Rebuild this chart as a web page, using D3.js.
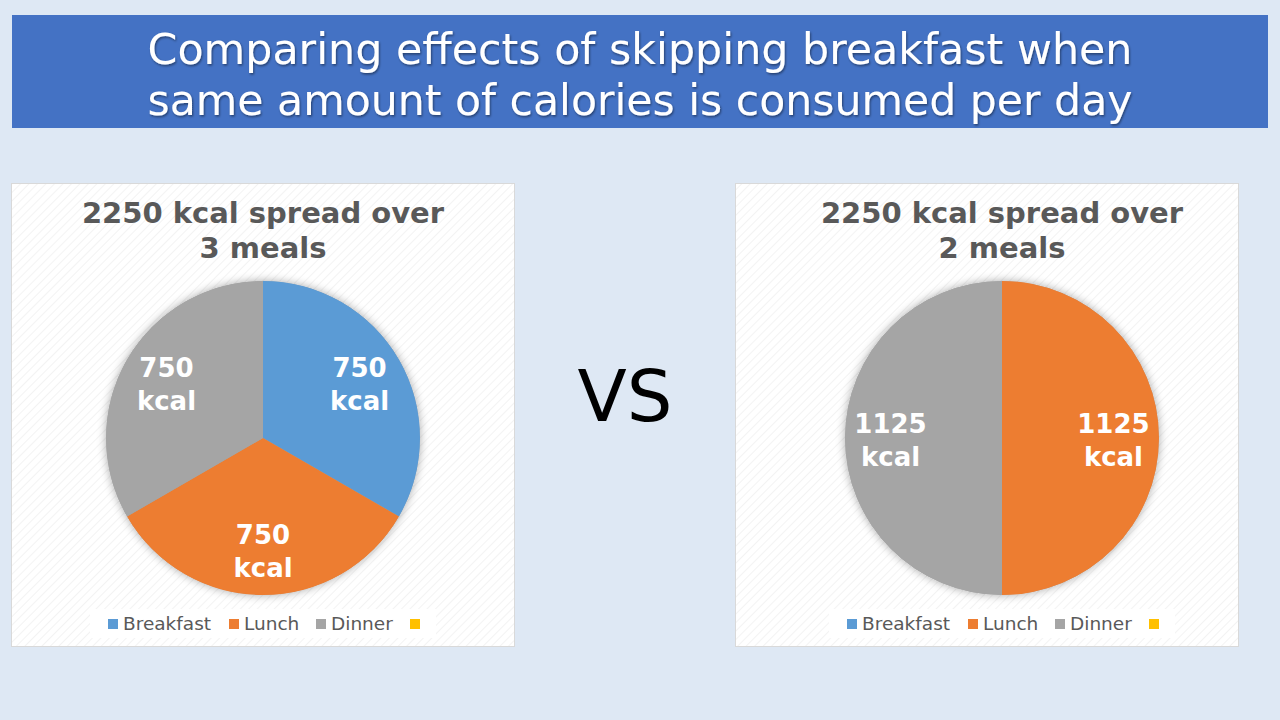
<!DOCTYPE html>
<html><head><meta charset="utf-8">
<script src="https://cdn.jsdelivr.net/npm/d3@7"></script>
<style>body{margin:0;background:#dee8f4;}svg{display:block;}</style>
</head><body>
<svg id="c" width="1280" height="720"></svg>
<script>
const categories = ["Breakfast", "Lunch", "Dinner", ""];
const colors = ["#5b9bd5", "#ed7d31", "#a5a5a5", "#ffc000"];
const mainTitle = ["Comparing effects of skipping breakfast when", "same amount of calories is consumed per day"];
const leftTitle = ["2250 kcal spread over", "3 meals"];
const rightTitle = ["2250 kcal spread over", "2 meals"];
const leftValues = [750, 750, 750, 0];
const rightValues = [0, 1125, 1125, 0];

const svg = d3.select("#c");
svg.append("rect").attr("width",1280).attr("height",720).attr("fill","#dee8f4");
const defs = svg.append("defs");
const pat = defs.append("pattern").attr("id","stripe").attr("patternUnits","userSpaceOnUse")
  .attr("width",6).attr("height",6).attr("patternTransform","rotate(45)");
pat.append("rect").attr("width",6).attr("height",6).attr("fill","#ffffff");
pat.append("rect").attr("width",1).attr("height",6).attr("fill","#f3f3f3");
const f = defs.append("filter").attr("id","sh").attr("x","-20%").attr("y","-20%").attr("width","140%").attr("height","140%");
f.append("feGaussianBlur").attr("in","SourceAlpha").attr("stdDeviation",5).attr("result","b");
f.append("feOffset").attr("in","b").attr("dx",0).attr("dy",0).attr("result","o");
f.append("feComponentTransfer").attr("in","o").attr("result","o2").append("feFuncA").attr("type","linear").attr("slope",0.35);
const m = f.append("feMerge"); m.append("feMergeNode").attr("in","o2"); m.append("feMergeNode").attr("in","SourceGraphic");
const tf = defs.append("filter").attr("id","tsh");
tf.append("feDropShadow").attr("dx",1).attr("dy",1.5).attr("stdDeviation",1).attr("flood-color","#000").attr("flood-opacity",0.45);

// Banner
svg.append("rect").attr("x",12).attr("y",15).attr("width",1256).attr("height",113).attr("fill","#4472c4");
svg.append("g").attr("filter","url(#tsh)").selectAll("text").data(mainTitle).join("text")
  .attr("x",640).attr("y",(d,i)=>64+i*51).attr("text-anchor","middle")
  .attr("font-family","'DejaVu Sans Condensed', 'DejaVu Sans', sans-serif").attr("font-size",43)
  .attr("fill","#fff")
  .attr("textLength",985).attr("lengthAdjust","spacingAndGlyphs")
  .text(d=>d);

// VS
svg.append("text").attr("x",625).attr("y",421).attr("text-anchor","middle")
  .attr("font-family","'DejaVu Sans', sans-serif").attr("font-size",72).attr("fill","#000").text("VS");

function panel(px, cx, title, values) {
  const g = svg.append("g");
  g.append("rect").attr("x",px+0.5).attr("y",183.5).attr("width",503).attr("height",463)
    .attr("fill","url(#stripe)").attr("stroke","#d9d9d9");
  const cy = 438, r = 157;
  g.selectAll("text.t").data(title).join("text").attr("class","t")
    .attr("x",cx).attr("y",(d,i)=>223+i*35).attr("text-anchor","middle")
    .attr("font-family","'DejaVu Sans', Verdana, sans-serif").attr("font-weight","bold")
    .attr("font-size",29).attr("fill","#595959").text(d=>d);
  const pie = d3.pie().sort(null).value(d=>d.v);
  const data = pie(values.map((v,i)=>({v, i})));
  const arc = d3.arc().innerRadius(0).outerRadius(r);
  const pg = g.append("g").attr("transform",`translate(${cx},${cy})`);
  pg.append("circle").attr("r",r).attr("fill","#a5a5a5").attr("filter","url(#sh)");
  pg.selectAll("path").data(data.filter(d=>d.data.v>0)).join("path")
    .attr("d",arc).attr("fill",d=>colors[d.data.i]);
  const la = d3.arc().innerRadius(r*0.71).outerRadius(r*0.71);
  data.filter(d=>d.data.v>0).forEach(d=>{
    const [x,y] = la.centroid(d);
    const t = pg.append("text").attr("text-anchor","middle")
      .attr("font-family","'DejaVu Sans', Verdana, sans-serif").attr("font-weight","bold")
      .attr("font-size",26).attr("fill","#fff");
    t.append("tspan").attr("x",x).attr("y",y-5).text(d.data.v);
    t.append("tspan").attr("x",x).attr("y",y+28).text("kcal");
  });
  // Legend
  const lx = cx - 173;
  g.append("rect").attr("x",lx).attr("y",609).attr("width",346).attr("height",29).attr("fill","#fff");
  const offs = [18, 139, 226, 320];
  categories.forEach((c,i)=>{
    g.append("rect").attr("x",lx+offs[i]).attr("y",619).attr("width",10).attr("height",10).attr("fill",colors[i]);
    g.append("text").attr("x",lx+offs[i]+15).attr("y",630).attr("font-family","'DejaVu Sans', Verdana, sans-serif")
      .attr("font-size",18.5).attr("fill","#595959").text(c);
  });
}
panel(11, 263, leftTitle, leftValues);
panel(735, 1002, rightTitle, rightValues);
</script>
</body></html>
